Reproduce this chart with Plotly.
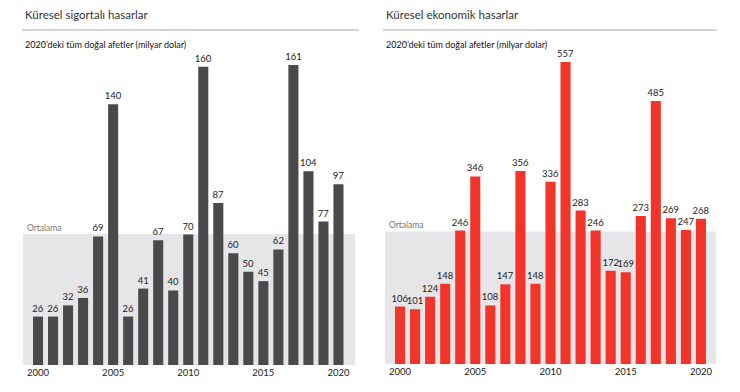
import plotly.graph_objects as go

years = list(range(2000, 2021))
insured = [26, 26, 32, 36, 69, 140, 26, 41, 67, 40, 70, 160, 87, 60, 50, 45, 62, 161, 104, 77, 97]
economic = [106, 101, 124, 148, 246, 346, 108, 147, 356, 148, 336, 557, 283, 246, 172, 169, 273, 485, 269, 247, 268]
tick_years = [2000, 2005, 2010, 2015, 2020]
titles = ["Küresel sigortalı hasarlar", "Küresel ekonomik hasarlar"]
subtitle = "2020’deki tüm doğal afetler (milyar dolar)"
avg_label = "Ortalama"

W, H = 740, 392
FONT = "Lato"
def px(x): return x / W
def py(y): return (H - y) / H

fig = go.Figure()
fig.add_trace(go.Bar(x=years, y=insured, marker=dict(color="#4a4a4d", line=dict(width=0)),
                     text=[str(v) for v in insured], textposition="outside", cliponaxis=False,
                     constraintext="none", textfont=dict(size=9.5, color="#222", family=FONT),
                     xaxis="x", yaxis="y"))
fig.add_trace(go.Bar(x=years, y=economic, marker=dict(color="#f2342a", line=dict(width=0)),
                     text=[str(v) for v in economic], textposition="outside", cliponaxis=False,
                     constraintext="none", textfont=dict(size=9.5, color="#222", family=FONT),
                     xaxis="x2", yaxis="y2"))

mean1 = sum(insured) / len(insured)
mean2 = sum(economic) / len(economic)

ax_common = dict(showgrid=False, zeroline=False, showline=False, ticks="",
                 tickfont=dict(size=9.5, color="#222", family=FONT), fixedrange=True)
fig.update_layout(
    width=W, height=H, margin=dict(l=0, r=0, t=0, b=0, pad=0),
    paper_bgcolor="white", plot_bgcolor="rgba(0,0,0,0)", showlegend=False,
    bargap=0.33,
    xaxis=dict(domain=[px(23), px(355)], range=[1999, 2021.1], tickvals=tick_years,
               ticktext=[str(t) for t in tick_years], anchor="y", **ax_common),
    yaxis=dict(domain=[py(365), py(30)], range=[0, 161 * 335 / 300], visible=False, anchor="x"),
    xaxis2=dict(domain=[px(385), px(716)], range=[1999, 2021.0], tickvals=tick_years,
                ticktext=[str(t) for t in tick_years], anchor="y2", **ax_common),
    yaxis2=dict(domain=[py(364), py(30)], range=[0, 557 * 334 / 302], visible=False, anchor="x2"),
)

for xr, yr, m in [("x", "y", mean1), ("x2", "y2", mean2)]:
    fig.add_shape(type="rect", xref=f"{xr} domain", yref=yr, x0=0, x1=1, y0=0, y1=m,
                  fillcolor="#e6e6e9", line=dict(width=0), layer="below")
    fig.add_annotation(xref=f"{xr} domain", yref=yr, x=0.005, y=m, text=avg_label,
                       showarrow=False, xanchor="left", yanchor="bottom", yshift=-1,
                       font=dict(size=8.5, color="#777", family=FONT))

for x0, x1, t in [(22, 359, titles[0]), (383, 717, titles[1])]:
    fig.add_shape(type="line", xref="paper", yref="paper", x0=px(x0), x1=px(x1),
                  y0=py(30), y1=py(30), line=dict(color="#aaaaaa", width=1))
    fig.add_annotation(xref="paper", yref="paper", x=px(x0 + 1), y=py(15), text=t,
                       showarrow=False, xanchor="left", yanchor="middle",
                       font=dict(size=11.5, color="#333", family=FONT))
    fig.add_annotation(xref="paper", yref="paper", x=px(x0 + 1), y=py(45), text=subtitle,
                       showarrow=False, xanchor="left", yanchor="middle",
                       font=dict(size=9, color="#111", family=FONT))

fig.write_html("out.html")
